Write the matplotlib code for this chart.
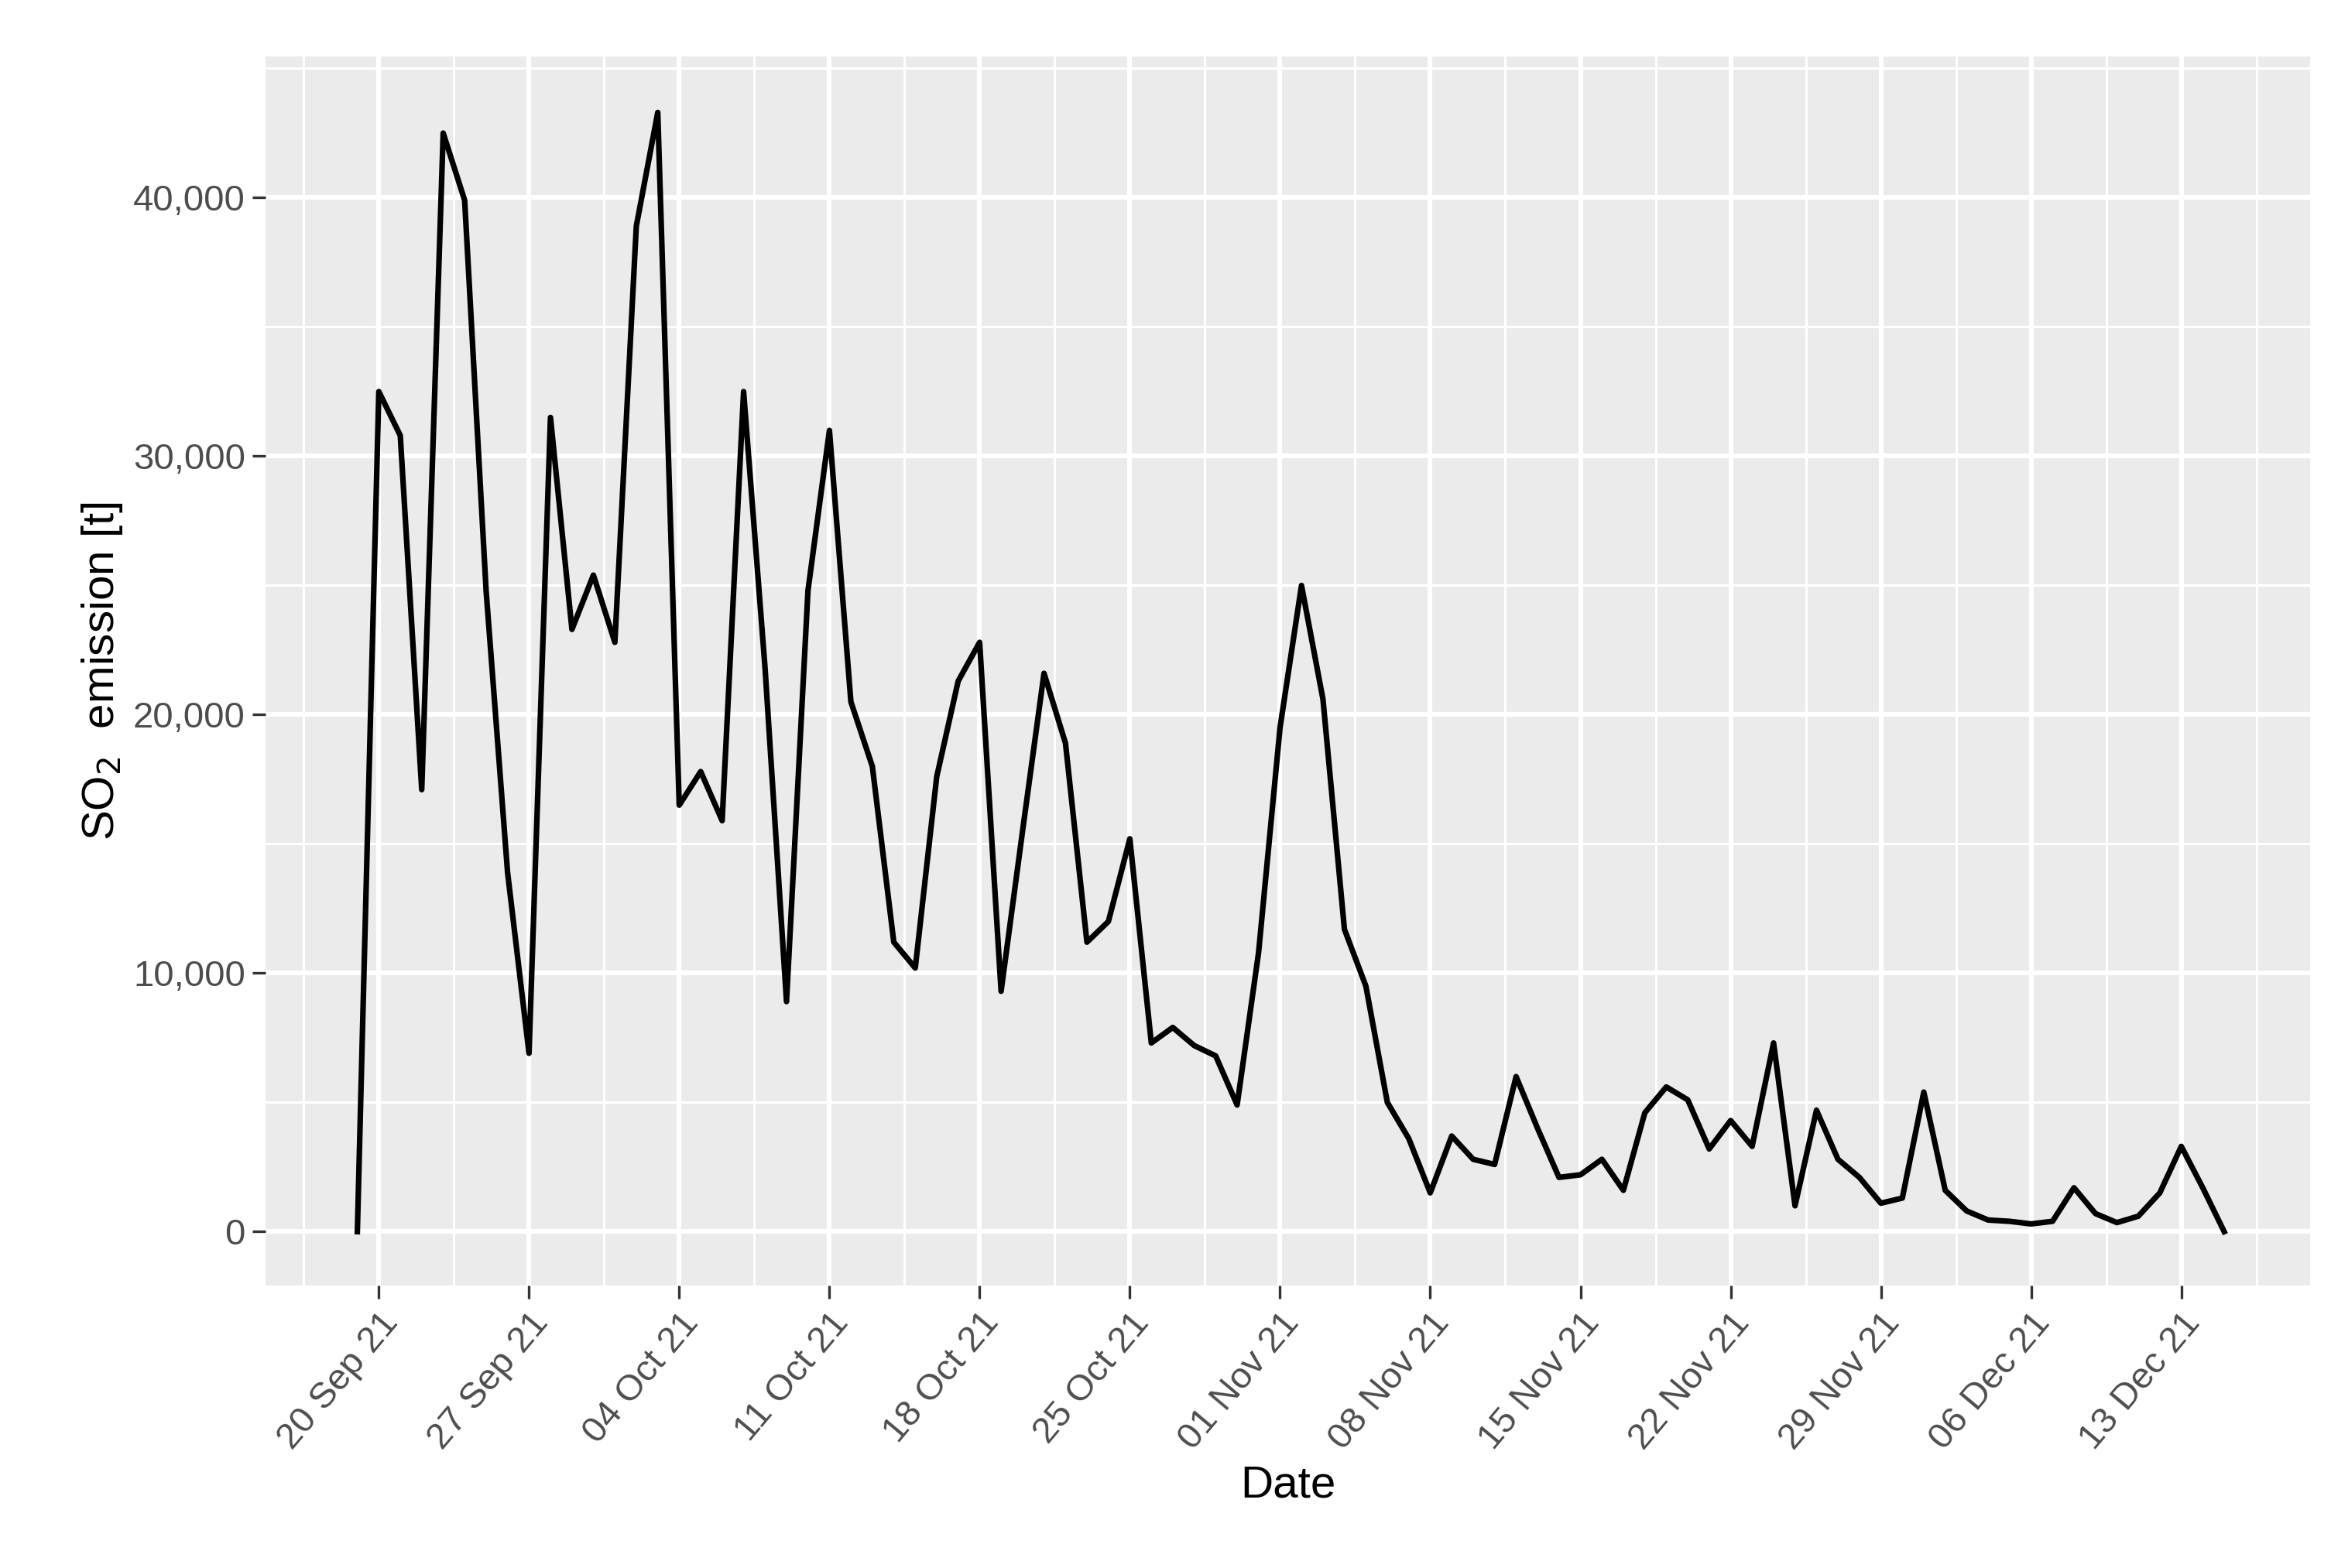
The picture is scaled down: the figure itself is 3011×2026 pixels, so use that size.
import numpy as np
import matplotlib.pyplot as plt
import matplotlib.dates as mdates
import matplotlib.ticker as mticker
import pandas as pd

plt.rcParams['font.family'] = ['Liberation Sans', 'DejaVu Sans']

start = "2021-09-19"
so2 = [0, 32500, 30800, 17100, 42500, 39900, 24800, 13900, 6900, 31500,
       23300, 25400, 22800, 38900, 43300, 16500, 17800, 15900, 32500, 21800,
       8900, 24800, 31000, 20500, 18000, 11200, 10200, 17600, 21300, 22800,
       9300, 15500, 21600, 18900, 11200, 12000, 15200, 7300, 7900, 7200,
       6800, 4900, 10800, 19500, 25000, 20600, 11700, 9500, 5000, 3600,
       1500, 3700, 2800, 2600, 6000, 4000, 2100, 2200, 2800, 1600,
       4600, 5600, 5100, 3200, 4300, 3300, 7300, 1000, 4700, 2800,
       2100, 1100, 1300, 5400, 1600, 800, 450, 400, 300, 400,
       1700, 700, 350, 600, 1500, 3300, 1700, 0]
dates = pd.date_range(start, periods=len(so2), freq="D")

fig = plt.figure(figsize=(15.055, 10.13), dpi=200)
ax = fig.add_axes([0.114, 0.180, 0.877, 0.784])
ax.set_facecolor('#ebebeb')
for s in ax.spines.values():
    s.set_visible(False)

ticks = pd.date_range("2021-09-20", "2021-12-13", freq="7D")
ax.set_xticks(mdates.date2num(ticks))
ax.set_xticks(mdates.date2num(ticks) - 3.5, minor=True)
ax.xaxis.set_minor_locator(mticker.FixedLocator(list(mdates.date2num(ticks) - 3.5) + [mdates.date2num(ticks[-1]) + 3.5]))
ax.set_xticklabels([d.strftime("%d %b %y") for d in ticks], rotation=50, ha='right',
                   rotation_mode='anchor', fontsize=17, color='#4d4d4d')
ax.set_yticks([0, 10000, 20000, 30000, 40000])
ax.yaxis.set_minor_locator(mticker.FixedLocator([5000, 15000, 25000, 35000, 45000]))
ax.yaxis.set_major_formatter(mticker.FuncFormatter(lambda v, p: f"{int(v):,}"))
ax.tick_params(axis='y', labelsize=17, labelcolor='#4d4d4d')
ax.tick_params(which='major', length=6, width=1.2, color='#333333')
ax.tick_params(which='minor', length=0)
ax.grid(True, which='major', color='white', linewidth=2.2)
ax.grid(True, which='minor', color='white', linewidth=1.1)
ax.set_axisbelow(True)

ax.plot(dates, so2, color='black', linewidth=2.6)
x0 = mdates.date2num(pd.Timestamp(start))
ax.set_xlim(x0 - 4.27, x0 + 91.0)
ax.set_ylim(-2093, 45465)

ax.set_xlabel("Date", fontsize=21, labelpad=4)
ax.set_ylabel("SO$_2$  emission [t]", fontsize=21)

fig.savefig("out.png", dpi=200)
